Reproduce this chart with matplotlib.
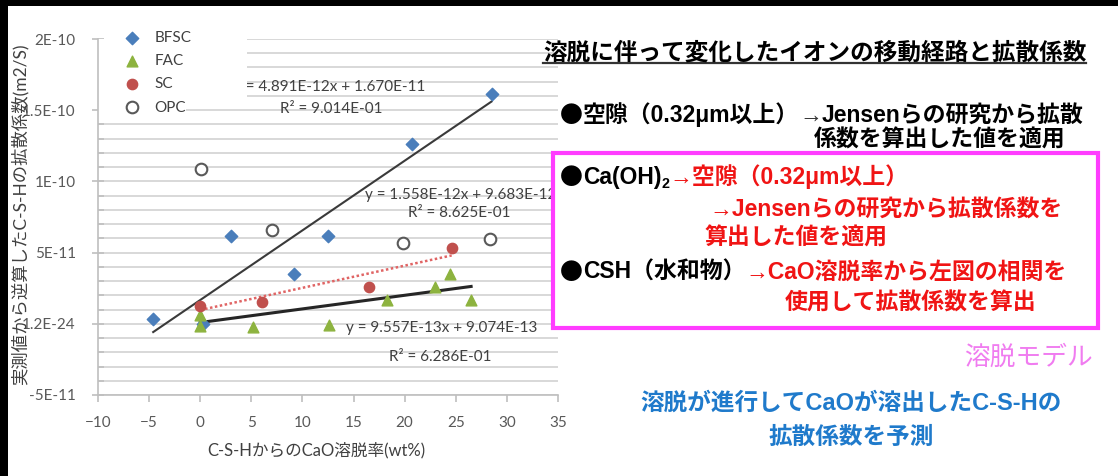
import numpy as np
import matplotlib.pyplot as plt
from matplotlib.patches import Rectangle
from matplotlib.ticker import MultipleLocator

# CaO leaching ratio of C-S-H (wt%) and diffusion coefficient back-calculated from measurements (m2/s)
bfsc_x = [-4.6, 0.3, 3.0, 9.2, 12.5, 20.7, 28.5]
bfsc_y = [0.35e-11, 0.0, 6.17e-11, 3.52e-11, 6.17e-11, 12.6e-11, 16.16e-11]
fac_x = [0.0, 0.0, 5.2, 12.6, 18.3, 23.0, 24.4, 26.5]
fac_y = [0.63e-11, -0.12e-11, -0.19e-11, -0.05e-11, 1.64e-11, 2.58e-11, 3.47e-11, 1.64e-11]
sc_x = [0.0, 6.0, 16.5, 24.6]
sc_y = [1.22e-11, 1.53e-11, 2.58e-11, 5.35e-11]
opc_x = [0.1, 7.0, 19.8, 28.3]
opc_y = [10.86e-11, 6.62e-11, 5.70e-11, 5.94e-11]

# linear trendlines: slope, intercept, R2
bfsc_fit = (4.891e-12, 1.670e-11, 9.014e-01)
sc_fit = (1.558e-12, 9.683e-12, 8.625e-01)
fac_fit = (9.557e-13, 9.074e-13, 6.286e-01)

xticks = [-10, -5, 0, 5, 10, 15, 20, 25, 30, 35]
yticks = [-5e-11, 0, 5e-11, 1e-10, 1.5e-10, 2e-10]
ytick_labels = ["-5E-11", "1.2E-24", "5E-11", "1E-10", "1.5E-10", "2E-10"]

W, H = 1118, 476
LAT = ["Lato", "Noto Sans CJK JP"]
GRAY = "#595959"
DARK = "#404040"

fig = plt.figure(figsize=(W / 100, H / 100), dpi=100)
fig.patch.set_facecolor("white")


def fbox(x0, y0, x1, y1):
    # pixel box (top-left origin) -> figure fraction rect
    return [x0 / W, 1 - y1 / H, (x1 - x0) / W, (y1 - y0) / H]


ax = fig.add_axes(fbox(98, 39, 558, 395))
ax.set_xlim(-10, 35)
ax.set_ylim(-5e-11, 2e-10)

ax.scatter(bfsc_x, bfsc_y, marker="D", s=40, color="#4a7ebb", zorder=4, label="BFSC")
ax.scatter(fac_x, fac_y, marker="^", s=60, color="#8db33f", zorder=4, label="FAC")
ax.scatter(sc_x, sc_y, marker="o", s=55, color="#c0504d", zorder=4, label="SC")
ax.scatter(opc_x, opc_y, marker="o", s=70, facecolor="white", edgecolor=GRAY,
           linewidth=1.5, zorder=4, label="OPC")


def trend(xs, fit, **kw):
    t = np.linspace(min(xs), max(xs), 50)
    ax.plot(t, fit[0] * t + fit[1], **kw)


trend(bfsc_x, bfsc_fit, color="#3a3a3a", lw=1.5, zorder=3)
trend(sc_x, sc_fit, color="#e06464", lw=1.8, ls=(0, (1, 1)), zorder=3)
trend(fac_x, fac_fit, color="#262626", lw=2.2, zorder=3)

ax.set_xticks(xticks)
ax.set_yticks(yticks, labels=ytick_labels)
ax.yaxis.set_minor_locator(MultipleLocator(1e-11))
ax.grid(axis="y", which="both", color="#d6d6d6", lw=1.3, zorder=0)
ax.set_axisbelow(True)
for side in ("top", "right"):
    ax.spines[side].set_visible(False)
for side in ("left", "bottom"):
    ax.spines[side].set_color("#bfbfbf")
    ax.spines[side].set_linewidth(1.2)
ax.tick_params(axis="both", which="major", colors="#bfbfbf", labelcolor=GRAY,
               labelsize=11, width=1.2)
ax.tick_params(axis="y", which="major", direction="inout", length=8, pad=12)
ax.tick_params(axis="y", which="minor", direction="in", length=4, colors="#bfbfbf", width=1.2)
ax.tick_params(axis="x", which="major", direction="out", length=5, pad=10)
for lab in ax.get_xticklabels() + ax.get_yticklabels():
    lab.set_family(LAT)

# legend sits on a white block that hides the grid behind it
ax.add_patch(Rectangle((-10, 1.56e-10), 14.6, 0.5e-10, facecolor="white",
                       edgecolor="none", zorder=2.5))
ax.add_patch(Rectangle((-10, 1.45e-10), 8.6, 0.12e-10, facecolor="white",
                       edgecolor="none", zorder=2.5))
leg = ax.legend(loc="upper left", bbox_to_anchor=(124 / W, 1 - 31 / H),
                bbox_transform=fig.transFigure, frameon=False, borderpad=0,
                borderaxespad=0, handlelength=1.0, handletextpad=1.0,
                labelspacing=0.6, prop={"family": LAT, "size": 11})
for t in leg.get_texts():
    t.set_color(DARK)
leg.set_zorder(6)

eq_kw = dict(family=LAT, fontsize=11, color=DARK, zorder=2, va="center")
ax.text(3.3, 1.66e-10, "y = %.3fE-12x + %.3fE-11" % (bfsc_fit[0] * 1e12, bfsc_fit[1] * 1e11),
        **eq_kw)
ax.text(7.8, 1.505e-10, "R\u00b2 = %.3fE-01" % (bfsc_fit[2] * 10), **eq_kw)
ax.text(16.1, 0.905e-10, "y = %.3fE-12x + %.3fE-12" % (sc_fit[0] * 1e12, sc_fit[1] * 1e12),
        **eq_kw)
ax.text(20.3, 0.775e-10, "R\u00b2 = %.3fE-01" % (sc_fit[2] * 10), **eq_kw)
ax.text(14.3, -0.03e-10, "y = %.3fE-13x + %.3fE-13" % (fac_fit[0] * 1e13, fac_fit[1] * 1e13),
        **eq_kw)
ax.text(18.5, -0.235e-10, "R\u00b2 = %.3fE-01" % (fac_fit[2] * 10), **eq_kw)

fig.text(316 / W, 1 - 450 / H, "C-S-HからのCaO溶脱率(wt%)", ha="center", va="center",
         family=LAT, fontsize=12, color=DARK)
fig.text(20 / W, 1 - 214 / H, "実測値から逆算したC-S-Hの拡散係数(m2/S)", ha="center",
         va="center", rotation=90, family=LAT, fontsize=12.5, color=DARK)

# right-hand notes drawn in pixel coordinates
ov = fig.add_axes([0, 0, 1, 1])
ov.set_xlim(0, W)
ov.set_ylim(H, 0)
ov.axis("off")
ov.patch.set_visible(False)
ov.set_zorder(5)

CJK = ["Noto Sans CJK JP"]
SANS = ["Liberation Sans", "Noto Sans CJK JP"]
RED = "#f01414"
BS = 16.5


def put_line(x, y, parts, size=BS):
    # y is the baseline; parts: (text, color, family, is_subscript)
    prev = None
    for text, color, fam, sub in parts:
        kw = dict(color=color, family=fam, fontweight="bold",
                  fontsize=size * 0.62 if sub else size, va="baseline", ha="left")
        yy = y + 4 if sub else y
        if prev is None:
            t = ov.text(x, yy, text, **kw)
        else:
            t = ov.annotate(text, xy=(1, yy), xycoords=(prev, "data"), **kw)
        prev = t
    return prev


title = ov.text(543, 53, "溶脱に伴って変化したイオンの移動経路と拡散係数", ha="left",
                va="center", family=CJK, fontweight="bold", fontsize=17, color="black")

put_line(560, 122, [("●", "black", CJK, False),
                    ("空隙（0.32μm以上）", "black", SANS, False),
                    ("→", "#333333", SANS, False),
                    ("Jensenらの研究から拡散", "black", SANS, False)])
ov.text(1065, 140, "係数を算出した値を適用", ha="right", va="center", family=CJK,
        fontweight="bold", fontsize=BS, color="black", zorder=1)

ov.add_patch(Rectangle((553, 153), 545, 175, facecolor="white", edgecolor="#ff3cff",
                       lw=3, zorder=2))

put_line(560, 184, [("●", "black", CJK, False),
                    ("Ca(OH)", "black", SANS, False),
                    ("2", "black", SANS, True),
                    ("→空隙（0.32μm以上）", RED, SANS, False)])
ov.text(1063, 210, "→Jensenらの研究から拡散係数を", ha="right", va="center",
        family=SANS, fontweight="bold", fontsize=BS, color=RED, zorder=3)
ov.text(705, 238, "算出した値を適用", ha="left", va="center", family=CJK,
        fontweight="bold", fontsize=BS, color=RED, zorder=3)
put_line(560, 279, [("●", "black", CJK, False),
                    ("CSH（水和物）", "black", SANS, False),
                    ("→CaO溶脱率から左図の相関を", RED, SANS, False)])
ov.text(1036, 303, "使用して拡散係数を算出", ha="right", va="center", family=CJK,
        fontweight="bold", fontsize=BS, color=RED, zorder=3)

ov.text(1093, 358, "溶脱モデル", ha="right", va="center", family=CJK,
        fontsize=18.5, color="#f07cf0")
ov.text(851, 403, "溶脱が進行してCaOが溶出したC-S-Hの", ha="center", va="center",
        family=SANS, fontweight="bold", fontsize=17, color="#1f7acb")
ov.text(851, 437, "拡散係数を予測", ha="center", va="center", family=CJK,
        fontweight="bold", fontsize=17, color="#1f7acb")

# underline under the heading
fig.canvas.draw()
bb = title.get_window_extent()
(x0, _), (x1, _) = ov.transData.inverted().transform([[bb.x0, bb.y0], [bb.x1, bb.y0]])
ov.plot([x0, x1], [63, 63], color="#333333", lw=1.6)

# dark frame on the left and top edges
ov.add_patch(Rectangle((0, 0), 8, H, facecolor="black", edgecolor="none", zorder=10))
ov.add_patch(Rectangle((0, 0), W, 6, facecolor="black", edgecolor="none", zorder=10))

fig.savefig("out.png", dpi=100)
